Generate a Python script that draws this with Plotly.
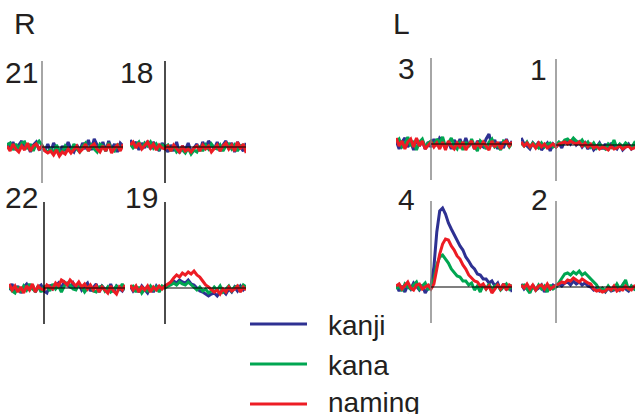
import plotly.graph_objects as go

W, H = 635, 414

# time axis (ms relative to stimulus onset)
time_ms = list(range(-96, 225, 8))

# ---- data (amplitude, arbitrary units) ----
kanji_21 = [4,-2,5,-3,2,6,-2,3,-5,2,5,-3,1,-4,3,-5,4,-2,-6,1,-4,5,-2,-5,2,-4,4,-2,7,-3,8,2,-2,5,-4,6,-2,3,-5,4,1]
kana_21 = [2,4,-3,3,-2,4,5,-2,3,-4,3,6,2,-3,-5,-2,-6,2,-4,-5,1,-3,-4,3,-2,-5,1,4,-4,2,-2,-5,3,1,-4,4,-2,-4,3,-2,1]
naming_21 = [1,-4,3,-2,-5,1,-3,4,-4,1,3,-2,1,-4,-6,-4,-8,-3,-9,-5,-7,-2,-6,-3,1,-5,-2,3,-4,1,3,-2,-5,1,-4,3,-6,-1,2,-4,3]

kanji_18 = [7,1,5,-3,4,-1,6,-2,5,1,-4,4,0,-5,2,-4,5,-6,1,-3,4,-5,-1,3,-4,5,-1,6,2,-2,5,-4,2,6,-2,4,-5,5,0,-4,4]
kana_18 = [3,-1,2,5,-2,4,1,5,-1,3,-2,2,0,2,-4,1,-5,-2,-3,-6,-1,-7,-3,-5,1,-4,2,-2,3,-1,-2,2,-4,1,3,-2,2,-4,1,2,-2]
naming_18 = [2,5,-1,4,-2,2,5,-1,3,-3,2,-1,-2,1,-4,2,-2,-5,1,-4,-2,-5,-1,1,-4,2,-2,1,-5,-1,2,-4,1,4,-2,2,-4,5,-2,3,-6]

kanji_22 = [-2,4,-4,2,-5,1,4,-2,3,-4,1,3,-3,-5,3,-1,2,5,0,6,3,1,5,-1,4,-2,2,5,-3,1,4,-4,2,-1,-3,4,-4,2,-1,-3,2]
kana_22 = [2,-3,-5,1,-4,2,-2,4,-1,-3,2,-4,1,2,-3,4,-1,2,-4,2,5,3,-1,-2,4,1,-4,0,2,-3,-4,1,2,-3,1,-4,-2,2,-1,4,-2]
naming_22 = [4,-2,2,-4,1,-5,2,-2,4,-4,2,-1,-2,3,1,-1,5,2,8,6,3,8,5,2,6,1,4,-1,3,-2,2,-4,1,-2,-5,2,-3,-6,1,-2,3]

kanji_19 = [2,-3,1,-4,2,-2,-5,1,-4,2,-2,1,2,3,5,7,5,8,6,5,8,4,3,0,-3,-4,-6,-8,-6,-5,-8,-4,-3,-6,-1,-4,1,-3,2,-2,1]
kana_19 = [1,2,-4,1,-5,-1,-3,2,-2,1,-4,2,0,2,3,5,3,6,4,3,6,3,1,-2,1,-3,-1,-5,-3,1,-2,2,-4,-1,2,-3,1,2,-2,3,1]
naming_19 = [3,-2,2,-4,1,-2,2,-4,1,-2,2,-1,2,4,6,10,13,11,15,13,16,14,17,13,11,7,3,1,-2,-4,-2,-6,-1,-4,1,-3,-1,2,-4,1,-2]

kanji_3 = [3,-5,2,6,-3,2,-6,5,-2,3,-5,2,-3,5,-2,6,3,-4,2,-5,4,-2,5,-3,6,-2,2,-5,3,-1,-3,5,10,-2,4,-5,2,-4,5,-2,3]
kana_3 = [2,5,-3,0,7,-2,3,-6,2,5,-3,1,3,-2,5,1,7,-3,1,6,-2,-5,3,-6,2,-3,5,-2,-7,3,0,-5,2,5,-3,-1,-6,3,2,-3,1]
naming_3 = [6,-2,3,-5,2,5,-3,6,-2,3,-5,-1,2,-3,1,-5,2,-6,3,-2,-5,1,-3,2,-6,-1,3,-5,1,-3,2,-2,-6,3,-3,2,-5,1,3,-2,2]

kanji_1 = [7,1,-1,-4,2,-2,3,-5,-1,2,-6,1,-2,2,-3,4,5,1,6,0,3,-2,2,-4,1,-5,-2,2,-4,1,-5,2,-2,-4,1,-5,-2,1,-4,-2,1]
kana_1 = [2,-1,3,-2,2,-1,-3,2,-2,1,2,-2,0,3,1,5,6,3,7,4,2,5,0,3,-2,2,-3,1,-2,-4,1,-2,5,-3,1,-2,2,-1,-3,2,-2]
naming_1 = [3,-1,2,-2,1,-3,2,-2,1,-3,-1,1,-2,1,2,3,1,4,2,1,3,-1,2,-2,1,-3,-1,-4,-2,-3,-5,-1,-4,-3,-1,-4,-2,-1,-4,-3,-1]

kanji_4 = [2,-4,1,-5,2,-2,4,0,-3,2,-6,-1,1,20,55,76,79,73,64,58,52,47,41,37,30,26,21,18,13,12,8,8,4,6,1,4,-3,3,-2,2,-5]
kana_4 = [-2,2,-4,3,0,-2,2,5,-2,1,4,-3,2,8,22,30,32,28,24,18,15,11,10,6,6,2,4,-3,1,-5,2,-2,3,-3,1,2,-3,0,3,-2,2]
naming_4 = [1,3,-2,2,5,-1,-3,2,3,-2,0,2,-2,3,18,33,43,48,47,41,37,31,28,22,18,12,9,6,5,1,3,-2,1,-6,-2,2,-2,3,-3,2,0]

kanji_2 = [3,-2,1,-5,2,-3,-1,2,-5,1,-2,2,0,3,1,4,5,2,6,3,5,2,4,1,0,-3,-1,-4,-2,-5,-1,-4,-3,1,-3,2,-2,-4,1,-2,2]
kana_2 = [1,2,-2,-6,1,-3,2,-2,1,-5,2,-2,0,4,9,13,14,12,15,13,16,12,14,11,9,5,2,-3,-1,-4,1,-3,-2,3,-2,2,7,-3,1,-2,2]
naming_2 = [2,-1,3,-2,2,-3,1,2,-2,3,-2,0,2,3,5,4,7,6,9,7,5,8,6,4,3,-2,-4,-3,-5,-4,-1,-3,1,-4,-2,-3,1,-2,-3,1,2]

panels = ["21", "18", "22", "19", "3", "1", "4", "2"]
series = {
    "21": (kanji_21, kana_21, naming_21),
    "18": (kanji_18, kana_18, naming_18),
    "22": (kanji_22, kana_22, naming_22),
    "19": (kanji_19, kana_19, naming_19),
    "3": (kanji_3, kana_3, naming_3),
    "1": (kanji_1, kana_1, naming_1),
    "4": (kanji_4, kana_4, naming_4),
    "2": (kanji_2, kana_2, naming_2),
}
series_names = ["kanji", "kana", "naming"]

# ---- layout / style (pixels) ----
COLORS = {"kanji": "#2E3192", "kana": "#00A651", "naming": "#ED1C24"}
TXT = "#231F20"
FONT = "Liberation Sans, Arial, sans-serif"
# onset_px, baseline_px, vline colour, label right edge px, label center y px
geom = {
    "21": (42, 147, "#808080", 40, 72),
    "18": (165, 147, "#000000", 155, 72),
    "22": (44, 288, "#000000", 40, 197),
    "19": (165, 288, "#000000", 160, 197),
    "3": (431, 144, "#808080", 417, 68),
    "1": (556, 145, "#808080", 549, 70),
    "4": (431, 287, "#808080", 417, 200),
    "2": (556, 287, "#808080", 550, 200),
}
K = 320 / 116.0  # ms per pixel
PRE_PX, POST_PX = 35, 81
Y_LO, Y_HI = -40, 90

fig = go.Figure()
shapes = []
annotations = []
layout_axes = {}

for i, p in enumerate(panels):
    n = i + 1
    sx = "" if n == 1 else str(n)
    onset, base, vcol, lx, ly = geom[p]
    x0 = onset - PRE_PX
    x1 = min(onset + POST_PX, W)
    xr = [(x0 - onset) * K, (x1 - onset) * K]
    layout_axes["xaxis" + sx] = dict(domain=[x0 / W, x1 / W], range=xr, visible=False, fixedrange=True)
    layout_axes["yaxis" + sx] = dict(domain=[1 - (base - Y_LO) / H, 1 - (base - Y_HI) / H],
                                     range=[Y_LO, Y_HI], visible=False, fixedrange=True)
    # onset marker and baseline
    shapes.append(dict(type="line", xref="x" + sx, yref="y" + sx, x0=0, x1=0, y0=-36, y1=86,
                       line=dict(color=vcol, width=1.4)))
    shapes.append(dict(type="line", xref="x" + sx, yref="y" + sx, x0=0, x1=xr[1], y0=0, y1=0,
                       line=dict(color="#000000", width=1.2)))
    for nm, vals in zip(series_names, series[p]):
        fig.add_trace(go.Scatter(x=time_ms, y=vals, mode="lines", xaxis="x" + sx, yaxis="y" + sx,
                                 line=dict(color=COLORS[nm], width=3), showlegend=False,
                                 hoverinfo="skip"))
    annotations.append(dict(text=p, xref="paper", yref="paper", x=lx / W, y=1 - ly / H,
                            xanchor="right", yanchor="middle", showarrow=False,
                            font=dict(size=30, color=TXT, family=FONT)))

# hemisphere labels
for txt, cx in (("R", 25), ("L", 401)):
    annotations.append(dict(text=txt, xref="paper", yref="paper", x=cx / W, y=1 - 23 / H,
                            xanchor="center", yanchor="middle", showarrow=False,
                            font=dict(size=30, color=TXT, family=FONT)))

# legend
for nm, ly, ty in (("kanji", 324, 325), ("kana", 364, 365), ("naming", 404, 402)):
    shapes.append(dict(type="line", xref="paper", yref="paper", x0=250 / W, x1=307 / W,
                       y0=1 - ly / H, y1=1 - ly / H, line=dict(color=COLORS[nm], width=3)))
    annotations.append(dict(text=nm, xref="paper", yref="paper", x=326 / W, y=1 - ty / H,
                            xanchor="left", yanchor="middle", showarrow=False,
                            font=dict(size=28, color=TXT, family=FONT)))

fig.update_layout(width=W, height=H, margin=dict(l=0, r=0, t=0, b=0),
                  paper_bgcolor="white", plot_bgcolor="white",
                  shapes=shapes, annotations=annotations, showlegend=False, **layout_axes)

fig.write_html("out.html", config={"displayModeBar": False},
               post_script="document.body.style.margin='0px';document.body.style.overflow='hidden';")
